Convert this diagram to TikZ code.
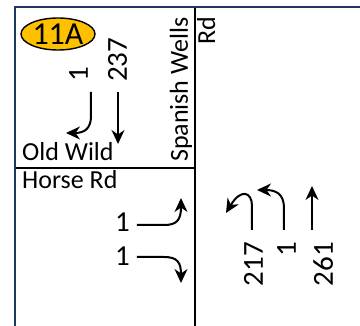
\documentclass[tikz,border=0pt]{standalone}
\usepackage{fontspec}
\setmainfont{Carlito}
\usepackage{tikz}
\usetikzlibrary{arrows.meta,shapes.geometric}
\definecolor{frameblue}{RGB}{31,56,100}
\definecolor{badgegold}{RGB}{255,192,0}

\begin{document}
\begin{tikzpicture}[x=1pt, y=-1pt,
    frame/.style={line width=2.6pt, frameblue},
    divider/.style={line width=1.2pt, black},
    road/.style={font=\fontsize{26}{26}\selectfont, inner sep=0pt},
    count/.style={font=\fontsize{29}{29}\selectfont, inner sep=0pt},
    badge/.style={ellipse, draw=black, line width=1.4pt, fill=badgegold,
        minimum width=74pt, minimum height=32pt, inner sep=0pt,
        font=\fontsize{32}{32}\selectfont},
    mov/.style={-{Stealth[length=14pt,width=13pt,inset=4.5pt]}, line width=2pt, black}
]
    \useasboundingbox (0,0) rectangle (360,326);
    % frame and dividers
    \coordinate (tl) at (15,7);
    \coordinate (tr) at (360,7);
    \coordinate (bl) at (15,326);
    \coordinate (mt) at (195,7);
    \coordinate (mb) at (195,326);
    \coordinate (hl) at (15,168);
    \coordinate (hr) at (195,168);
    \draw[divider] (mt) -- (mb);
    \draw[divider] (hl) -- (hr);
    \draw[frame] (bl) -- (tl) -- (tr);
    % badge and road names
    \node[badge] (id) at (58,34) {11A};
    \node[road, anchor=base west] (oldwild) at (22,161) {Old Wild};
    \node[road, anchor=base west] (horse) at (22,189) {Horse Rd};
    \node[road, rotate=90, anchor=base east] (spanish) at (188,17) {Spanish Wells};
    \node[road, rotate=90, anchor=base east] (rd) at (215,17) {Rd};
    % southbound
    \node[count, rotate=90, anchor=base west] (sbL) at (88,82) {1};
    \node[count, rotate=90, anchor=base west] (sbT) at (127,82) {237};
    \coordinate (sbL0) at (91,92);
    \coordinate (sbL1) at (66,133);
    \coordinate (sbT0) at (118,92);
    \coordinate (sbT1) at (118,144);
    \draw[mov] (sbL0) -- ++(0,24) .. controls +(0,13) and (84,133) .. (sbL1);
    \draw[mov] (sbT0) -- (sbT1);
    % eastbound
    \node[count, anchor=east] (ebL) at (130,222) {1};
    \node[count, anchor=east] (ebR) at (130,256) {1};
    \coordinate (ebL0) at (137,225);
    \coordinate (ebL1) at (181,198);
    \coordinate (ebR0) at (137,257);
    \coordinate (ebR1) at (181,283);
    \draw[mov] (ebL0) -- ++(27,0) .. controls +(13,0) and (181,220) .. (ebL1);
    \draw[mov] (ebR0) -- ++(27,0) .. controls +(13,0) and (181,262) .. (ebR1);
    % northbound
    \node[count, rotate=90, anchor=base east] (nbU) at (263,242) {217};
    \node[count, rotate=90, anchor=base east] (nbL) at (296,242) {1};
    \node[count, rotate=90, anchor=base east] (nbT) at (333,242) {261};
    \coordinate (nbU0) at (252,230);
    \coordinate (nbU1) at (226,213);
    \coordinate (nbL0) at (284,230);
    \coordinate (nbL1) at (257,190);
    \coordinate (nbT0) at (312,230);
    \coordinate (nbT1) at (312,186);
    \draw[mov] (nbU0) -- ++(0,-24) .. controls +(0,-14) and (241,188) .. (nbU1);
    \draw[mov] (nbL0) -- ++(0,-22) .. controls +(0,-14) and (276,190) .. (nbL1);
    \draw[mov] (nbT0) -- (nbT1);
\end{tikzpicture}
\end{document}
